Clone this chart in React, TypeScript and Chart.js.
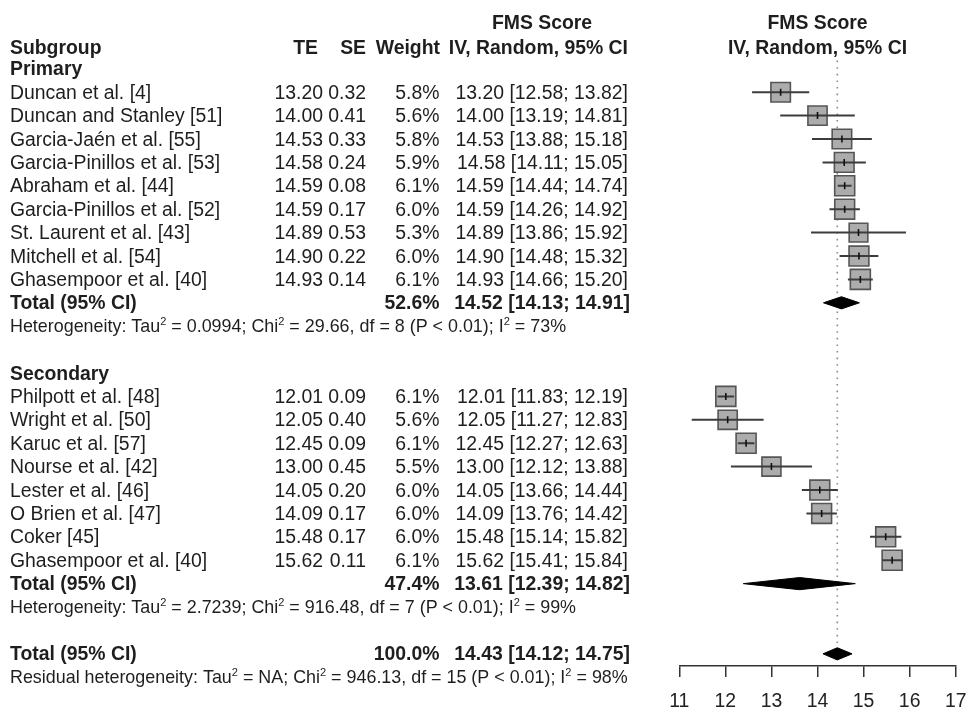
import React, { useEffect, useRef } from 'react';
import { Chart, registerables } from 'chart.js';
Chart.register(...registerables);

// ---------- data ----------
const primaryStudies = [
  'Duncan et al. [4]',
  'Duncan and Stanley [51]',
  'Garcia-Jaén et al. [55]',
  'Garcia-Pinillos et al. [53]',
  'Abraham et al. [44]',
  'Garcia-Pinillos et al. [52]',
  'St. Laurent et al. [43]',
  'Mitchell et al. [54]',
  'Ghasempoor et al. [40]',
];
const primaryTE = [13.2, 14.0, 14.53, 14.58, 14.59, 14.59, 14.89, 14.9, 14.93];
const primarySE = [0.32, 0.41, 0.33, 0.24, 0.08, 0.17, 0.53, 0.22, 0.14];
const primaryWeight = [5.8, 5.6, 5.8, 5.9, 6.1, 6.0, 5.3, 6.0, 6.1];
const primaryLower = [12.58, 13.19, 13.88, 14.11, 14.44, 14.26, 13.86, 14.48, 14.66];
const primaryUpper = [13.82, 14.81, 15.18, 15.05, 14.74, 14.92, 15.92, 15.32, 15.2];

const secondaryStudies = [
  'Philpott et al. [48]',
  'Wright et al. [50]',
  'Karuc et al. [57]',
  'Nourse et al. [42]',
  'Lester et al. [46]',
  'O Brien et al. [47]',
  'Coker [45]',
  'Ghasempoor et al. [40]',
];
const secondaryTE = [12.01, 12.05, 12.45, 13.0, 14.05, 14.09, 15.48, 15.62];
const secondarySE = [0.09, 0.4, 0.09, 0.45, 0.2, 0.17, 0.17, 0.11];
const secondaryWeight = [6.1, 5.6, 6.1, 5.5, 6.0, 6.0, 6.0, 6.1];
const secondaryLower = [11.83, 11.27, 12.27, 12.12, 13.66, 13.76, 15.14, 15.41];
const secondaryUpper = [12.19, 12.83, 12.63, 13.88, 14.44, 14.42, 15.82, 15.84];

// pooled: primary subgroup, secondary subgroup, overall
const totalWeight = [52.6, 47.4, 100.0];
const totalEst = [14.52, 13.61, 14.43];
const totalLower = [14.13, 12.39, 14.12];
const totalUpper = [14.91, 14.82, 14.75];

// heterogeneity texts: odd entries are superscripts
const hetPrimary = ['Heterogeneity: Tau', '2', ' = 0.0994; Chi', '2', ' = 29.66, df = 8 (P < 0.01); I', '2', ' = 73%'];
const hetSecondary = ['Heterogeneity: Tau', '2', ' = 2.7239; Chi', '2', ' = 916.48, df = 7 (P < 0.01); I', '2', ' = 99%'];
const hetResidual = ['Residual heterogeneity: Tau', '2', ' = NA; Chi', '2', ' = 946.13, df = 15 (P < 0.01); I', '2', ' = 98%'];

const xTicks = [11, 12, 13, 14, 15, 16, 17];

// ---------- layout (rows) ----------
const FONT = '"Liberation Sans", Arial, Helvetica, sans-serif';
const FS = 19.4;
const HFS = 17.9;
const ROW_PRIMARY_LABEL = 2;
const ROW_PRIMARY_START = 3;
const ROW_PRIMARY_TOTAL = ROW_PRIMARY_START + primaryStudies.length; // 12
const ROW_PRIMARY_HET = ROW_PRIMARY_TOTAL + 1; // 13
const ROW_SECONDARY_LABEL = ROW_PRIMARY_HET + 2; // 15
const ROW_SECONDARY_START = ROW_SECONDARY_LABEL + 1; // 16
const ROW_SECONDARY_TOTAL = ROW_SECONDARY_START + secondaryStudies.length; // 24
const ROW_SECONDARY_HET = ROW_SECONDARY_TOTAL + 1; // 25
const ROW_OVERALL = ROW_SECONDARY_HET + 2; // 27
const ROW_RESIDUAL = ROW_OVERALL + 1; // 28

const COL_NAME = 10;
const COL_TE = 323;
const COL_SE = 366;
const COL_W = 439.5;
const COL_CI = 628;

const studyTE = [...primaryTE, ...secondaryTE];
const studyLower = [...primaryLower, ...secondaryLower];
const studyUpper = [...primaryUpper, ...secondaryUpper];
const studyWeight = [...primaryWeight, ...secondaryWeight];
const studyRows = [
  ...primaryStudies.map((_, i) => ROW_PRIMARY_START + i),
  ...secondaryStudies.map((_, i) => ROW_SECONDARY_START + i),
];
const totalRows = [ROW_PRIMARY_TOTAL, ROW_SECONDARY_TOTAL, ROW_OVERALL];

const f2 = (v: number) => v.toFixed(2);
const ciText = (e: number, l: number, u: number) => `${f2(e)} [${f2(l)}; ${f2(u)}]`;

const textPlugin = {
  id: 'forestText',
  afterDraw(chart: any) {
    const ctx = chart.ctx as CanvasRenderingContext2D;
    const ys = chart.scales.y;
    const area = chart.chartArea;
    const py = (r: number) => ys.getPixelForValue(r);
    const midX = (area.left + area.right) / 2;
    ctx.save();
    ctx.fillStyle = '#1e1e1e';
    ctx.textBaseline = 'alphabetic';
    const put = (t: string, x: number, r: number, align: CanvasTextAlign, bold = false, size = FS) => {
      ctx.font = `${bold ? 'bold ' : ''}${size}px ${FONT}`;
      ctx.textAlign = align;
      ctx.fillText(t, x, py(r) + size * 0.34);
    };
    const het = (parts: string[], r: number) => {
      let x = COL_NAME;
      const base = py(r) + HFS * 0.34;
      ctx.textAlign = 'left';
      parts.forEach((p, i) => {
        if (i % 2 === 1) {
          ctx.font = `${HFS * 0.62}px ${FONT}`;
          ctx.fillText(p, x, base - HFS * 0.42);
        } else {
          ctx.font = `${HFS}px ${FONT}`;
          ctx.fillText(p, x, base);
        }
        x += ctx.measureText(p).width;
      });
    };

    // headers
    put('FMS Score', 542, 0, 'center', true);
    put('FMS Score', midX, 0, 'center', true);
    const hr = 1.1;
    put('Subgroup', COL_NAME, hr, 'left', true);
    put('TE', 318, hr, 'right', true);
    put('SE', 366, hr, 'right', true);
    put('Weight', 440, hr, 'right', true);
    put('IV, Random, 95% CI', COL_CI, hr, 'right', true);
    put('IV, Random, 95% CI', midX, hr, 'center', true);

    // subgroup labels
    put('Primary', COL_NAME, ROW_PRIMARY_LABEL, 'left', true);
    put('Secondary', COL_NAME, ROW_SECONDARY_LABEL, 'left', true);

    const rowsText = (names: string[], te: number[], se: number[], w: number[], lo: number[], hi: number[], start: number) => {
      names.forEach((n, i) => {
        const r = start + i;
        put(n, COL_NAME, r, 'left');
        put(f2(te[i]), COL_TE, r, 'right');
        put(f2(se[i]), COL_SE, r, 'right');
        put(`${w[i].toFixed(1)}%`, COL_W, r, 'right');
        put(ciText(te[i], lo[i], hi[i]), COL_CI, r, 'right');
      });
    };
    rowsText(primaryStudies, primaryTE, primarySE, primaryWeight, primaryLower, primaryUpper, ROW_PRIMARY_START);
    rowsText(secondaryStudies, secondaryTE, secondarySE, secondaryWeight, secondaryLower, secondaryUpper, ROW_SECONDARY_START);

    totalRows.forEach((r, i) => {
      put('Total (95% CI)', COL_NAME, r, 'left', true);
      put(`${totalWeight[i].toFixed(1)}%`, COL_W, r, 'right', true);
      put(ciText(totalEst[i], totalLower[i], totalUpper[i]), COL_CI + 2, r, 'right', true);
    });

    het(hetPrimary, ROW_PRIMARY_HET);
    het(hetSecondary, ROW_SECONDARY_HET);
    het(hetResidual, ROW_RESIDUAL);
    ctx.restore();
  },
};

export default function App() {
  const ref = useRef<HTMLCanvasElement>(null);
  useEffect(() => {
    const DH = 0.26;
    const datasets: any[] = [];
    // study point-estimate ticks (on top)
    datasets.push({
      type: 'scatter',
      data: studyTE.map((v, i) => ({ x: v, y: studyRows[i] })),
      pointStyle: 'line',
      rotation: 90,
      pointRadius: 3.5,
      borderColor: '#111',
      borderWidth: 1.6,
      order: 0,
    });
    // CI lines
    studyTE.forEach((_, i) => {
      datasets.push({
        type: 'line',
        data: [
          { x: studyLower[i], y: studyRows[i] },
          { x: studyUpper[i], y: studyRows[i] },
        ],
        borderColor: '#3c3c3c',
        borderWidth: 2,
        pointRadius: 0,
        order: 1,
      });
    });
    // weight squares
    datasets.push({
      type: 'scatter',
      data: studyTE.map((v, i) => ({ x: v, y: studyRows[i] })),
      pointStyle: 'rect',
      pointRadius: studyWeight.map((w) => (20 * Math.sqrt(w / 6.1)) / Math.SQRT2),
      backgroundColor: '#acacac',
      borderColor: '#555',
      borderWidth: 1.6,
      order: 2,
    });
    // diamonds
    totalEst.forEach((e, i) => {
      const r = totalRows[i];
      datasets.push({
        type: 'line',
        data: [
          { x: totalLower[i], y: r },
          { x: e, y: r - DH },
          { x: totalUpper[i], y: r },
          { x: e, y: r + DH },
          { x: totalLower[i], y: r },
        ],
        fill: 'shape',
        backgroundColor: '#000',
        borderColor: '#000',
        borderWidth: 1,
        pointRadius: 0,
        tension: 0,
        order: 3,
      });
    });
    // dotted overall line
    datasets.push({
      type: 'line',
      data: [
        { x: totalEst[2], y: 1.65 },
        { x: totalEst[2], y: ROW_OVERALL + 0.3 },
      ],
      borderColor: '#8a8a8a',
      borderWidth: 1.6,
      borderDash: [1.6, 5],
      pointRadius: 0,
      order: 5,
    });

    const chart = new Chart(ref.current as HTMLCanvasElement, {
      type: 'scatter',
      data: { datasets },
      options: {
        responsive: false,
        devicePixelRatio: 1,
        animation: false,
        events: [],
        layout: { autoPadding: false, padding: { left: 679.3, right: 11.3, top: 0, bottom: 0 } },
        plugins: { legend: { display: false }, tooltip: { enabled: false } },
        scales: {
          x: {
            type: 'linear',
            position: 'bottom',
            min: xTicks[0],
            max: xTicks[xTicks.length - 1],
            afterBuildTicks: (s: any) => {
              s.ticks = xTicks.map((v) => ({ value: v }));
            },
            afterFit: (s: any) => {
              s.height = 42;
              s.paddingLeft = 0;
              s.paddingRight = 0;
            },
            ticks: {
              color: '#222',
              font: { size: FS, family: FONT },
              padding: 13,
              maxRotation: 0,
              autoSkip: false,
            },
            grid: { drawOnChartArea: false, drawTicks: true, tickLength: 11, color: '#333', lineWidth: 1.5 },
            border: { display: true, color: '#333', width: 1.5 },
          },
          y: {
            type: 'linear',
            display: false,
            reverse: true,
            min: -0.94,
            max: 27.52,
          },
        },
      } as any,
      plugins: [textPlugin],
    });
    return () => chart.destroy();
  }, []);
  return (
    <div style={{ position: 'fixed', left: 0, top: 0, width: 967, height: 708, background: '#fff' }}>
      <canvas ref={ref} width={967} height={708} style={{ display: 'block', width: 967, height: 708 }} />
    </div>
  );
}
